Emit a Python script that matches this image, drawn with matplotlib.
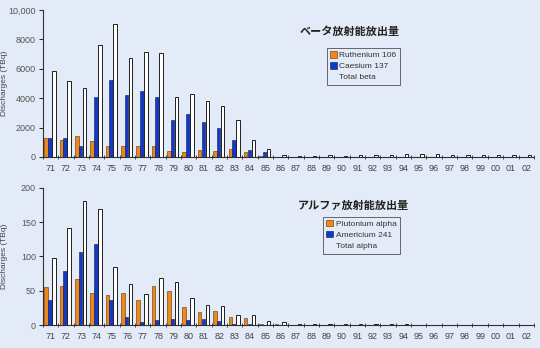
import matplotlib.pyplot as plt
import numpy as np

plt.rcParams['font.family'] = ['Noto Sans CJK JP', 'DejaVu Sans']

years = ['71', '72', '73', '74', '75', '76', '77', '78', '79', '80', '81', '82', '83', '84', '85', '86',
         '87', '88', '89', '90', '91', '92', '93', '94', '95', '96', '97', '98', '99', '00', '01', '02']

ruthenium = [1310, 1180, 1400, 1090, 770, 770, 770, 770, 400, 360, 500, 400, 540, 340, 50, 20,
             10, 10, 10, 10, 10, 10, 10, 10, 10, 10, 10, 10, 10, 10, 10, 10]
caesium = [1300, 1310, 770, 4070, 5250, 4250, 4480, 4070, 2530, 2940, 2400, 1990, 1180, 450, 360, 30,
           20, 20, 20, 20, 20, 20, 20, 20, 20, 20, 20, 20, 20, 20, 20, 20]
total_beta = [5880, 5160, 4680, 7600, 9050, 6720, 7130, 7060, 4100, 4280, 3800, 3480, 2510, 1180, 570, 160,
              90, 90, 160, 90, 150, 150, 150, 180, 230, 180, 150, 150, 150, 150, 150, 150]

plutonium = [55.6, 56.6, 67, 47, 44, 47, 36.6, 57.6, 49, 27, 19.5, 21, 12, 10, 2, 2,
             0.5, 0.5, 0.5, 0.5, 0.3, 0.3, 0.3, 0.3, 0, 0, 0, 0, 0, 0, 0, 0]
americium = [36.6, 79.5, 106, 118.5, 36.6, 11, 4.4, 7.3, 8.3, 7.3, 8.3, 6.3, 2, 2, 0.5, 0.5,
             0.3, 0.3, 0.3, 0.3, 0.2, 0.2, 0.2, 0.2, 0, 0, 0, 0, 0, 0, 0, 0]
total_alpha = [98, 142, 181, 169, 85, 60, 45, 68, 62.5, 40, 29, 28, 14, 14.6, 6, 4,
               2, 2, 2, 2, 1.5, 1.5, 1.5, 1.5, 0, 0, 0, 0, 0, 0, 0, 0]

bg = '#e4ebf8'
orange = '#f0871a'
blue = '#1438c8'
small = 'Liberation Sans'

fig = plt.figure(figsize=(5.4, 3.48), dpi=100, facecolor=bg)
ax1 = fig.add_axes([0.0796, 0.549, 0.909, 0.422])
ax2 = fig.add_axes([0.0796, 0.066, 0.909, 0.394])

x = np.arange(len(years))
w = 0.23


def draw(ax, a, b, c, labels, ymax, yticks, yticklabels, title, tx, ty, leg_anchor):
    ax.set_facecolor(bg)
    ax.bar(x - 0.29, a, w, color=orange, edgecolor='#5a3000', linewidth=0.4, label=labels[0])
    ax.bar(x - 0.05, b, w, color=blue, edgecolor='#101850', linewidth=0.4, label=labels[1])
    ax.bar(x + 0.21, c, w, color='white', edgecolor='#202020', linewidth=0.7, label=labels[2])
    ax.set_xlim(-0.5, len(years) - 0.5)
    ax.set_ylim(0, ymax)
    for s in ['top', 'right']:
        ax.spines[s].set_visible(False)
    for s in ['left', 'bottom']:
        ax.spines[s].set_color('#303030')
        ax.spines[s].set_linewidth(0.8)
    ax.set_xticks(x)
    ax.set_xticklabels(years, fontsize=6.5, color='#444444', family=small)
    ax.set_xticks(np.arange(-0.5, len(years)), minor=True)
    ax.tick_params(axis='x', which='major', length=0, pad=5)
    ax.tick_params(axis='x', which='minor', length=3, direction='inout', color='#303030')
    ax.set_yticks(yticks)
    ax.set_yticklabels(yticklabels, fontsize=6.5, color='#555555', family=small)
    ax.tick_params(axis='y', length=3, color='#303030', pad=2)
    ax.set_ylabel('Discharges (TBq)', fontsize=6, color='#444444', family=small)
    ax.yaxis.set_label_coords(-0.071, 0.5)
    ax.text(tx, ty, title, transform=ax.transAxes, fontsize=8, fontweight='bold', color='#222222')
    hs, ls = ax.get_legend_handles_labels()
    leg = ax.legend(hs, ls, loc='upper left', bbox_to_anchor=leg_anchor,
                    frameon=True, fancybox=False, edgecolor='#444444', facecolor=bg,
                    handlelength=0.8, handleheight=0.8, handletextpad=0.3, borderpad=0.4,
                    labelspacing=0.35, prop={'family': small, 'size': 6})
    leg.get_frame().set_linewidth(0.7)
    leg.legend_handles[2].set_visible(False)
    for t in leg.get_texts():
        t.set_color('#333333')


draw(ax1, ruthenium, caesium, total_beta, ['Ruthenium 106', 'Caesium 137', 'Total beta'],
     10000, [0, 2000, 4000, 6000, 8000, 10000], ['0', '2000', '4000', '6000', '8000', '10,000'],
     'ベータ放射能放出量', 0.523, 0.83, (0.57, 0.77))
draw(ax2, plutonium, americium, total_alpha, ['Plutonium alpha', 'Americium 241', 'Total alpha'],
     200, [0, 50, 100, 150, 200], ['0', '50', '100', '150', '200'],
     'アルファ放射能放出量', 0.519, 0.847, (0.562, 0.82))

fig.savefig('out.png', dpi=100, facecolor=bg)
